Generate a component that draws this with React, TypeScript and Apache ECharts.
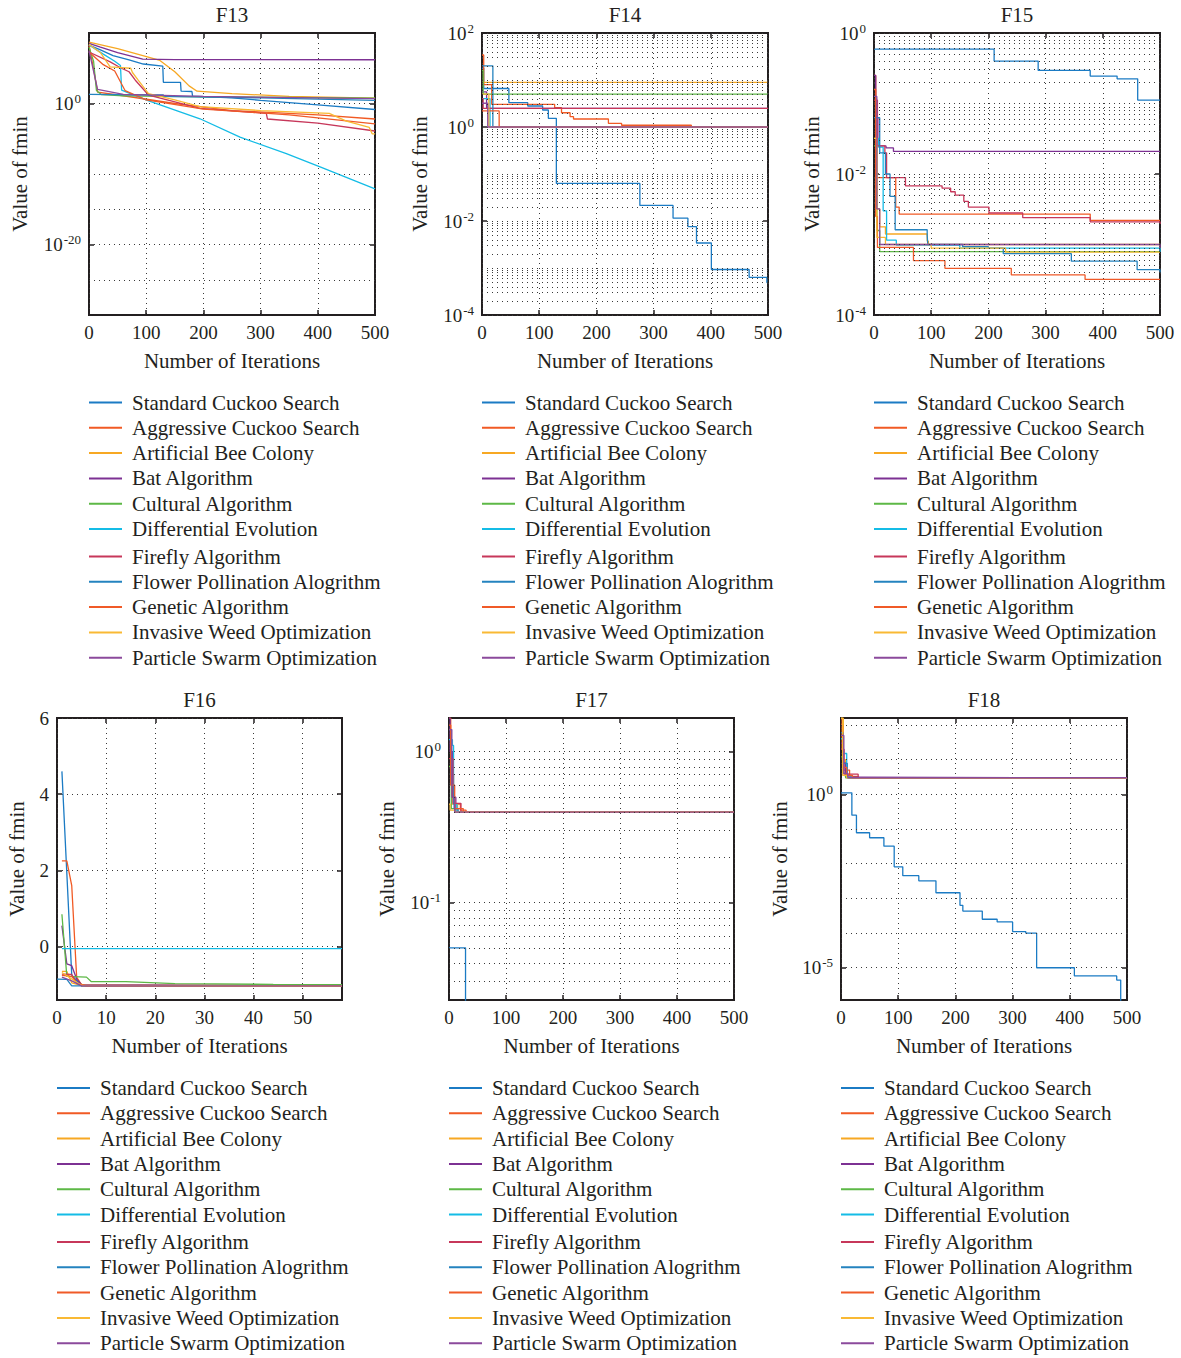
import { useEffect, useRef } from "react";
import * as echarts from "echarts";

const ALGORITHMS = [
  "Standard Cuckoo Search",
  "Aggressive Cuckoo Search",
  "Artificial Bee Colony",
  "Bat Algorithm",
  "Cultural Algorithm",
  "Differential Evolution",
  "Firefly Algorithm",
  "Flower Pollination Alogrithm",
  "Genetic Algorithm",
  "Invasive Weed Optimization",
  "Particle Swarm Optimization",
];

const COLORS = [
  "#1b7bc4", "#f15a24", "#f7a823", "#7d3193", "#5db846", "#14bce6",
  "#c7375a", "#2483bf", "#f05a28", "#f9b934", "#8b4a9c",
];

const TITLES = ["F13", "F14", "F15", "F16", "F17", "F18"];
const X_TICKS_500 = [0, 100, 200, 300, 400, 500];
const X_TICKS_F16 = [0, 10, 20, 30, 40, 50];

// [iteration, fmin] per algorithm, in ALGORITHMS order
const F13_DATA = [
  [[0, 2e8], [20, 4e7], [42, 6.3e6], [70, 1.6e6], [95, 4e5], [129, 2e5], [130, 1000], [160, 1000], [161, 56], [180, 50], [181, 11], [250, 6.3], [300, 2.8], [400, 0.63], [500, 0.14]],
  [[0, 2e8], [10, 1e4], [15, 40], [60, 12.6], [150, 1], [250, 0.1], [400, 0.025], [500, 0.0063]],
  [[0, 5e8], [50, 6.3e7], [124, 1.26e6], [150, 3.2e4], [175, 316], [189, 56], [250, 25], [350, 10], [500, 5.6]],
  [[0, 3.5e8], [20, 1e8], [50, 1.6e7], [94, 2e6], [150, 1.66e6], [500, 1.6e6]],
  [[0, 1e8], [8, 1e6], [13, 69], [22, 18], [60, 12.6], [130, 10], [500, 5.6]],
  [[0, 2e8], [25, 1e7], [45, 1e6], [55, 2.5e5], [57, 80], [102, 2.7], [194, 0.0068], [264, 1.66e-5], [345, 7.9e-8], [404, 1e-9], [500, 7.9e-13]],
  [[0, 2e7], [37, 8e5], [52, 1.6e5], [70, 3.2e4], [81, 2000], [104, 16], [140, 2.7], [194, 0.2], [310, 0.04], [312, 0.0063], [400, 0.0016], [500, 1.26e-4]],
  [[0, 20], [130, 16], [131, 10], [300, 6.3], [500, 2.8]],
  [[0, 2e7], [25, 3.2e5], [45, 4e4], [63, 69], [100, 3.2], [200, 0.16], [350, 0.025], [500, 0.00126]],
  [[0, 2.5e8], [20, 1.6e7], [37, 1.6e5], [73, 1e5], [76, 2.5e4], [86, 2000], [104, 25], [150, 3.2], [194, 0.37], [300, 0.1], [420, 0.04], [450, 0.0032], [490, 4e-4], [495, 5e-5], [500, 5e-5]],
  [[0, 3.2e7], [15, 100], [60, 20], [200, 10], [500, 5]],
];

const F14_DATA = [
  [[0, 17.8], [3, 6.6], [47, 3.29], [80, 2.8], [106, 2.3], [116, 1.53], [130, 0.063], [276, 0.0214], [334, 0.0115], [360, 0.0076], [375, 0.0034], [401, 0.00093], [467, 0.00063], [498, 0.00049], [500, 0.00049]],
  [[0, 34], [3, 8], [17, 3.04], [127, 2.57], [139, 2.01], [154, 1.66], [160, 1.48], [221, 1.2], [244, 1.09], [366, 1.0], [500, 1.0]],
  [[0, 8.9], [500, 8.9]],
  [[0, 5.6], [8, 2.5], [500, 2.5]],
  [[0, 16], [2, 5.0], [500, 5.0]],
  [[0, 4.0], [14, 1.0], [500, 1.0]],
  [[0, 4.0], [2, 2.5], [500, 2.5]],
  [[0, 20], [19, 1.0], [500, 1.0]],
  [[0, 2.2], [30, 1.0], [500, 1.0]],
  [[0, 5.0], [12, 1.0], [500, 1.0]],
  [[0, 3.2], [10, 1.0], [500, 1.0]],
];

const F15_DATA = [
  [[0, 0.59], [210, 0.4], [287, 0.295], [378, 0.245], [425, 0.224], [461, 0.112], [500, 0.112]],
  [[0, 0.25], [3, 0.0089], [38, 0.0034], [44, 0.0027], [378, 0.0022], [500, 0.0022]],
  [[0, 0.1], [5, 0.0032], [10, 0.00178], [20, 0.00141], [93, 0.00112], [95, 0.001], [500, 0.001]],
  [[0, 0.25], [3, 0.063], [9, 0.025], [21, 0.0234], [34, 0.0209], [500, 0.0209]],
  [[0, 0.025], [5, 0.00158], [10, 0.00079], [500, 0.00078]],
  [[0, 0.032], [8, 0.024], [16, 0.003], [22, 0.00115], [39, 0.00098], [150, 0.00089], [500, 0.00078]],
  [[0, 0.112], [6, 0.025], [19, 0.02], [22, 0.0089], [46, 0.0089], [55, 0.0068], [119, 0.0063], [134, 0.0056], [142, 0.005], [157, 0.0041], [165, 0.0034], [201, 0.0028], [260, 0.0024], [378, 0.0021], [500, 0.00195]],
  [[0, 0.063], [10, 0.02], [20, 0.01], [28, 0.0048], [37, 0.00162], [93, 0.00135], [94, 0.001], [155, 0.00093], [200, 0.00089], [226, 0.00074], [345, 0.00058], [460, 0.00044], [500, 0.0004]],
  [[0, 0.158], [3, 0.0025], [6, 0.00091], [69, 0.00059], [124, 0.00046], [240, 0.00037], [369, 0.00032], [500, 0.00032]],
  [[0, 0.032], [5, 0.00126], [20, 0.001], [100, 0.00089], [230, 0.00078], [500, 0.00078]],
  [[0, 0.126], [5, 0.0032], [10, 0.001], [500, 0.00089]],
];

const F16_DATA = [
  [[1, 4.6], [3, -0.75], [5, -1.03], [58, -1.03]],
  [[1, 2.25], [2, 2.25], [3, 1.6], [4, -0.8], [5, -1.0], [6, -1.03], [58, -1.03]],
  [[1, -0.65], [2, -0.65], [3, -0.95], [5, -1.02], [58, -1.03]],
  [[1, 0.55], [2, -0.45], [3, -0.5], [4, -0.85], [5, -1.0], [58, -1.03]],
  [[1, 0.85], [2, -0.78], [6, -0.8], [7, -0.92], [14, -0.92], [24, -0.97], [44, -0.99], [58, -1.0]],
  [[1, -0.05], [58, -0.05]],
  [[1, -0.72], [3, -0.73], [4, -0.95], [5, -1.02], [58, -1.03]],
  [[0, -0.85], [2, -0.86], [3, -1.03], [58, -1.03]],
  [[1, -0.75], [3, -0.78], [4, -0.95], [6, -1.03], [58, -1.03]],
  [[1, -0.68], [3, -0.85], [5, -1.02], [58, -1.03]],
  [[1, -0.8], [3, -0.9], [5, -1.03], [58, -1.03]],
];

const F17_DATA = [
  [[0, 0.0503], [29, 0.001], [500, 0.001]],
  [[0, 1.67], [3, 0.7], [8, 0.45], [20, 0.41], [30, 0.398], [500, 0.398]],
  [[0, 0.9], [5, 0.45], [15, 0.398], [500, 0.398]],
  [[0, 1.67], [2, 1.0], [6, 0.5], [12, 0.398], [500, 0.398]],
  [[0, 0.8], [4, 0.42], [10, 0.398], [500, 0.398]],
  [[0, 1.2], [6, 1.1], [8, 0.45], [14, 0.398], [500, 0.398]],
  [[0, 0.9], [7, 0.455], [21, 0.398], [500, 0.398]],
  [[0, 1.4], [4, 0.6], [9, 0.42], [16, 0.398], [500, 0.398]],
  [[0, 1.5], [3, 0.6], [10, 0.42], [25, 0.398], [500, 0.398]],
  [[0, 0.45], [2, 0.41], [10, 0.398], [500, 0.398]],
  [[0, 1.4], [5, 0.5], [10, 0.398], [500, 0.398]],
];

const F18_DATA = [
  [[0, 1.1], [19, 0.25], [27, 0.078], [50, 0.056], [75, 0.032], [93, 0.0081], [108, 0.0045], [136, 0.0032], [166, 0.00145], [208, 0.00063], [213, 0.00043], [247, 0.00025], [273, 0.00021], [300, 0.00011], [323, 0.0001], [342, 1.0e-5], [408, 5.8e-6], [482, 4.4e-6], [489, 1e-7], [500, 1e-7]],
  [[0, 150], [2, 20], [5, 5], [15, 3.3], [30, 3.0], [500, 3.0]],
  [[0, 158], [4, 10], [8, 3.2], [15, 3.0], [500, 3.0]],
  [[0, 30], [3, 8], [8, 3.1], [20, 3.0], [500, 3.0]],
  [[0, 12], [3, 4], [8, 3.0], [500, 3.0]],
  [[0, 40], [4, 15], [10, 3.4], [20, 3.0], [500, 3.0]],
  [[0, 20], [5, 3.8], [30, 3.0], [500, 3.0]],
  [[0, 60], [4, 7.8], [11, 3.0], [500, 3.0]],
  [[0, 100], [3, 6], [10, 3.5], [20, 3.0], [500, 3.0]],
  [[0, 158], [3, 3.5], [10, 3.0], [500, 3.0]],
  [[0, 50], [5, 4], [12, 3.0], [500, 3.0]],
];

// y axis in log10 units for log panels
const Y_MIN = [-30, -4, -4, -1.4, -1.644, -5.93];
const Y_MAX = [10, 2, 0, 6, 0.223, 2.2];
const Y_TICKS = [[-20, 0], [-4, -2, 0, 2], [-4, -2, 0], [0, 2, 4, 6], [-1, 0], [-5, 0]];

const INK = "#231f20";
const GRID_C = "#3a3a3a";
const FONT = "Liberation Serif";

const LAYOUT = [
  { left: 89, top: 33, width: 286, height: 282, yGap: 59, legendTop: 391.5 },
  { left: 482, top: 33, width: 286, height: 282, yGap: 52, legendTop: 391.5 },
  { left: 874, top: 33, width: 286, height: 282, yGap: 52, legendTop: 391.5 },
  { left: 57, top: 718, width: 285, height: 282, yGap: 30, legendTop: 1077 },
  { left: 449, top: 718, width: 285, height: 282, yGap: 52, legendTop: 1077 },
  { left: 841, top: 718, width: 286, height: 282, yGap: 51, legendTop: 1077 },
];

function logMinor(nFrom: number, nTo: number) {
  const out: number[] = [];
  for (let n = nFrom; n <= nTo; n++) for (let k = 2; k <= 9; k++) out.push(n + Math.log10(k));
  return out;
}

function buildOption() {
  const datasets = [F13_DATA, F14_DATA, F15_DATA, F16_DATA, F17_DATA, F18_DATA];
  const isLog = [true, true, true, false, true, true];
  const stepped = [false, "end", "end", false, "end", "end"];
  const xTicks = [X_TICKS_500, X_TICKS_500, X_TICKS_500, X_TICKS_F16, X_TICKS_500, X_TICKS_500];
  const xMax = [500, 500, 500, 58, 500, 500];
  const minors = [
    [-25, -15, -10, -5, 5],
    [-3, -1, 1, ...logMinor(-4, 1)],
    [-3, -1, ...logMinor(-4, -1)],
    [],
    logMinor(-2, -1),
    [-4, -3, -2, -1, 1, 2],
  ].map((arr, i) => arr.filter((v) => v > Y_MIN[i] + 1e-6 && v < Y_MAX[i] - 1e-6));

  const dotted = { type: [1, 4] as any, color: GRID_C, width: 1 };
  const tickStyle = { color: INK, width: 1.5 };
  const txt = { fontFamily: FONT, color: INK };
  const noLine = { show: false, onZero: false };

  const grid: any[] = [];
  const xAxis: any[] = [];
  const yAxis: any[] = [];
  const series: any[] = [];
  const title: any[] = [];
  const legend: any[] = [];

  LAYOUT.forEach((L, i) => {
    grid.push({ left: L.left, top: L.top, width: L.width, height: L.height, show: true, borderColor: INK, borderWidth: 2, backgroundColor: "transparent", containLabel: false });
    title.push({ text: TITLES[i], left: L.left + L.width / 2, top: L.top - 29, padding: 0, textAlign: "center", textStyle: { ...txt, fontSize: 21, fontWeight: "normal" } });
    const logFmt = (v: number) => `{b|10}{s|${Math.round(v)}}`;
    yAxis.push({
      type: "value", gridIndex: i, min: Y_MIN[i], max: Y_MAX[i], position: "left",
      axisLine: noLine,
      axisTick: { show: true, inside: true, length: 5, lineStyle: tickStyle, customValues: Y_TICKS[i] },
      axisLabel: {
        customValues: Y_TICKS[i], margin: 8, ...txt, fontSize: 19,
        formatter: isLog[i] ? logFmt : (v: number) => String(v),
        rich: {
          b: { ...txt, fontSize: 19 },
          s: { ...txt, fontSize: 13, padding: [0, 0, 10, 1] },
        },
      },
      splitLine: { show: true, lineStyle: dotted },
      name: "Value of fmin", nameLocation: "middle", nameGap: L.yGap,
      nameTextStyle: { ...txt, fontSize: 21 },
    });
    xAxis.push({
      type: "value", gridIndex: i, min: 0, max: xMax[i], position: "bottom",
      axisLine: noLine,
      axisTick: { show: true, inside: true, length: 5, lineStyle: tickStyle, customValues: xTicks[i] },
      axisLabel: { customValues: xTicks[i], margin: 8, ...txt, fontSize: 19 },
      splitLine: { show: true, lineStyle: dotted },
      name: "Number of Iterations", nameLocation: "middle", nameGap: 35,
      nameTextStyle: { ...txt, fontSize: 21 },
    });
    datasets[i].forEach((pts, k) => {
      series.push({
        type: "line", name: ALGORITHMS[k], xAxisIndex: i, yAxisIndex: i,
        data: pts.map(([x, v]) => [x, isLog[i] ? Math.log10(v) : v]),
        step: stepped[i], symbol: "none", showSymbol: false, clip: true, z: 3,
        color: COLORS[k], lineStyle: { width: 1.3, color: COLORS[k] },
        emphasis: { disabled: true }, silent: true,
      });
    });
    if (minors[i].length) {
      series.push({
        type: "line", name: "minor-grid-" + i, xAxisIndex: i, yAxisIndex: i, data: [], z: 1, silent: true,
        markLine: { silent: true, symbol: ["none", "none"], label: { show: false }, lineStyle: dotted, emphasis: { disabled: true }, data: minors[i].map((v) => ({ yAxis: v })) },
      });
    }
    const legBase = {
      orient: "vertical", left: L.left, padding: 0, itemGap: 3.3, itemWidth: 33, itemHeight: 2,
      icon: "rect", selectedMode: false,
      textStyle: { ...txt, fontSize: 21, lineHeight: 22, padding: [0, 0, 0, 5] },
    };
    legend.push({ ...legBase, top: L.legendTop, data: ALGORITHMS.slice(0, 6) });
    legend.push({ ...legBase, top: L.legendTop + 154, data: ALGORITHMS.slice(6) });
  });

  // tick marks on top and right sides (box)
  LAYOUT.forEach((L, i) => {
    xAxis.push({
      type: "value", gridIndex: i, min: 0, max: xMax[i], position: "top",
      axisLine: noLine, axisLabel: { show: false }, splitLine: { show: false },
      axisTick: { show: true, inside: true, length: 5, lineStyle: tickStyle, customValues: xTicks[i] },
    });
    yAxis.push({
      type: "value", gridIndex: i, min: Y_MIN[i], max: Y_MAX[i], position: "right",
      axisLine: noLine, axisLabel: { show: false }, splitLine: { show: false },
      axisTick: { show: true, inside: true, length: 5, lineStyle: tickStyle, customValues: Y_TICKS[i] },
    });
  });

  return { animation: false, backgroundColor: "#ffffff", title, grid, xAxis, yAxis, series, legend };
}

export default function App() {
  const ref = useRef<HTMLDivElement>(null);
  useEffect(() => {
    if (!ref.current) return;
    const chart = echarts.init(ref.current, null, { renderer: "svg" });
    chart.setOption(buildOption() as any);
    return () => chart.dispose();
  }, []);
  return <div ref={ref} style={{ position: "absolute", left: 0, top: 0, width: 1181, height: 1358, background: "#fff" }} />;
}
